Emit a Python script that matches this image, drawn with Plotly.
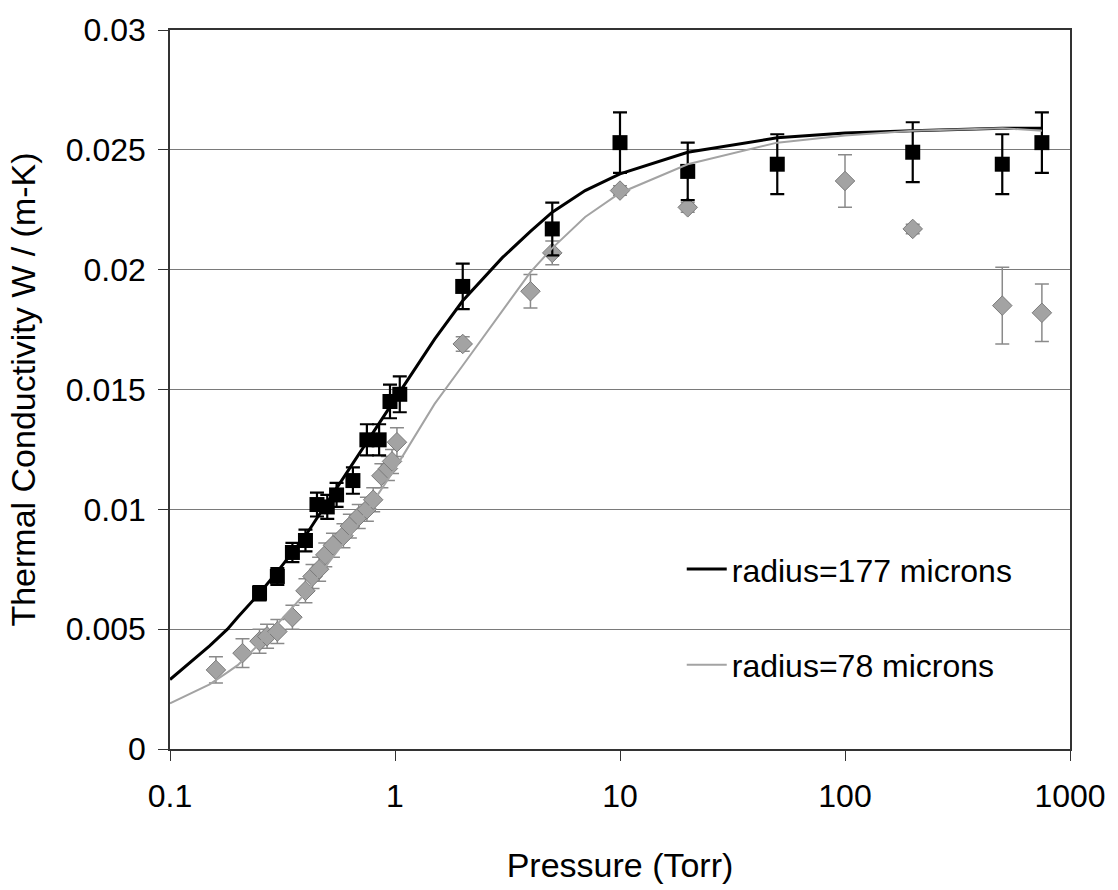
import plotly.graph_objects as go

# ---------------- data ----------------
# measured, radius = 177 microns (black squares)
p_177 = [0.25, 0.3, 0.35, 0.4, 0.45, 0.5, 0.55, 0.65, 0.75, 0.85, 0.95, 1.05,
         2, 5, 10, 20, 50, 200, 500, 750]
k_177 = [0.0065, 0.0072, 0.0082, 0.0087, 0.0102, 0.0101, 0.0106, 0.0112, 0.0129, 0.0129,
         0.0145, 0.0148, 0.0193, 0.0217, 0.0253, 0.0241, 0.0244, 0.0249, 0.0244, 0.0253]
e_177 = [0.0003, 0.00035, 0.0004, 0.00045, 0.0005, 0.0005, 0.0005, 0.00055, 0.00065, 0.00065,
         0.0007, 0.00075, 0.00095, 0.0011, 0.00126, 0.0012, 0.00125, 0.00125, 0.00125, 0.00126]

# measured, radius = 78 microns (grey diamonds)
p_78 = [0.16, 0.21, 0.25, 0.27, 0.30, 0.35, 0.40, 0.43, 0.46, 0.49, 0.53, 0.59, 0.63, 0.69,
        0.75, 0.80, 0.87, 0.93, 0.97, 1.02, 2, 4, 5, 10, 20, 100, 200, 500, 750]
k_78 = [0.0033, 0.0040, 0.0045, 0.0047, 0.0049, 0.0055, 0.0066, 0.0072, 0.0075, 0.0081,
        0.0085, 0.0089, 0.0093, 0.0097, 0.0100, 0.0104, 0.0114, 0.0117, 0.0120, 0.0128,
        0.0169, 0.0191, 0.0207, 0.0233, 0.0226, 0.0237, 0.0217, 0.0185, 0.0182]
e_78 = [0.00055, 0.0006, 0.0005, 0.0005, 0.0005, 0.0005, 0.0005, 0.0005, 0.0005, 0.0005,
        0.0005, 0.0005, 0.0005, 0.0005, 0.0005, 0.0005, 0.0005, 0.0005, 0.0005, 0.0006,
        0.0003, 0.0007, 0.0005, 0.0002, 0.0002, 0.0011, 0.0002, 0.0016, 0.0012]

# model curves
p_fit = [0.1, 0.15, 0.18, 0.2, 0.25, 0.3, 0.4, 0.5, 0.7, 1, 1.5, 2, 3, 4, 5, 7,
         10, 20, 50, 100, 200, 500, 750]
fit_177 = [0.0029, 0.0043, 0.0050, 0.0055, 0.0065, 0.0074, 0.0089, 0.0103, 0.0124, 0.0146,
           0.0171, 0.0187, 0.0205, 0.0216, 0.0224, 0.0233, 0.0240, 0.0249, 0.0255, 0.0257,
           0.0258, 0.0259, 0.0259]
fit_78 = [0.0019, 0.0027, 0.0032, 0.0035, 0.0044, 0.0052, 0.0065, 0.0077, 0.0095, 0.0117,
          0.0144, 0.0160, 0.0183, 0.0199, 0.0209, 0.0222, 0.0232, 0.0244, 0.0253, 0.0256,
          0.0258, 0.0259, 0.0258]

x_ticks = [0.1, 1, 10, 100, 1000]
x_tick_text = ["0.1", "1", "10", "100", "1000"]
y_ticks = [0, 0.005, 0.01, 0.015, 0.02, 0.025, 0.03]
y_tick_text = ["0", "0.005", "0.01", "0.015", "0.02", "0.025", "0.03"]

FONT = "Liberation Sans, Arial, sans-serif"
GREY = "#a3a3a3"

fig = go.Figure()

fig.add_trace(go.Scatter(
    x=p_78, y=k_78, mode="markers", showlegend=False,
    marker=dict(symbol="diamond", size=15, color=GREY, line=dict(color="#7a7a7a", width=1)),
    error_y=dict(type="data", array=e_78, color="#8a8a8a", thickness=1.5, width=7),
))
fig.add_trace(go.Scatter(
    x=p_177, y=k_177, mode="markers", showlegend=False,
    marker=dict(symbol="square", size=15, color="black"),
    error_y=dict(type="data", array=e_177, color="black", thickness=2.2, width=7),
))
fig.add_trace(go.Scatter(
    x=p_fit, y=fit_177, mode="lines", name="radius=177 microns", legendgroup="a",
    line=dict(color="black", width=3),
))
fig.add_trace(go.Scatter(
    x=p_fit, y=fit_78, mode="lines", name="radius=78 microns", legendgroup="b",
    line=dict(color=GREY, width=2),
))

# white panel behind the legend (hides gridline like the original)
fig.add_shape(type="rect", xref="paper", yref="paper",
              x0=(607 - 170) / 911, x1=(1069 - 170) / 911,
              y0=(752 - 700) / 725, y1=(752 - 535) / 725,
              fillcolor="white", line=dict(width=0), layer="between")

fig.update_layout(
    width=1118, height=890,
    margin=dict(l=170, r=37, t=27, b=138),
    paper_bgcolor="white", plot_bgcolor="white",
    font=dict(family=FONT, size=32, color="black"),
    legend=dict(x=(688 - 170) / 911, y=(752 - 543) / 725, xanchor="left", yanchor="top",
                bgcolor="rgba(0,0,0,0)", font=dict(size=32), tracegroupgap=51,
                itemwidth=40),
    showlegend=True,
)
fig.update_xaxes(
    type="log", range=[-1, 3], tickvals=x_ticks, ticktext=x_tick_text,
    showgrid=False, showline=True, linecolor="#333", linewidth=1.5, mirror=True,
    ticks="outside", ticklen=10, tickcolor="#333", ticklabelstandoff=8,
    title=dict(text="Pressure (Torr)", font=dict(size=34), standoff=40),
    zeroline=False,
)
fig.update_yaxes(
    range=[0, 0.03], tickvals=y_ticks, ticktext=y_tick_text,
    showgrid=True, gridcolor="#7a7a7a", gridwidth=1,
    showline=True, linecolor="#333", linewidth=1.5, mirror=True,
    ticks="outside", ticklen=10, tickcolor="#333", ticklabelstandoff=6,
    title=dict(text="Thermal Conductivity W / (m-K)", font=dict(size=34), standoff=20),
    zeroline=False,
)

fig.write_html("out.html")
